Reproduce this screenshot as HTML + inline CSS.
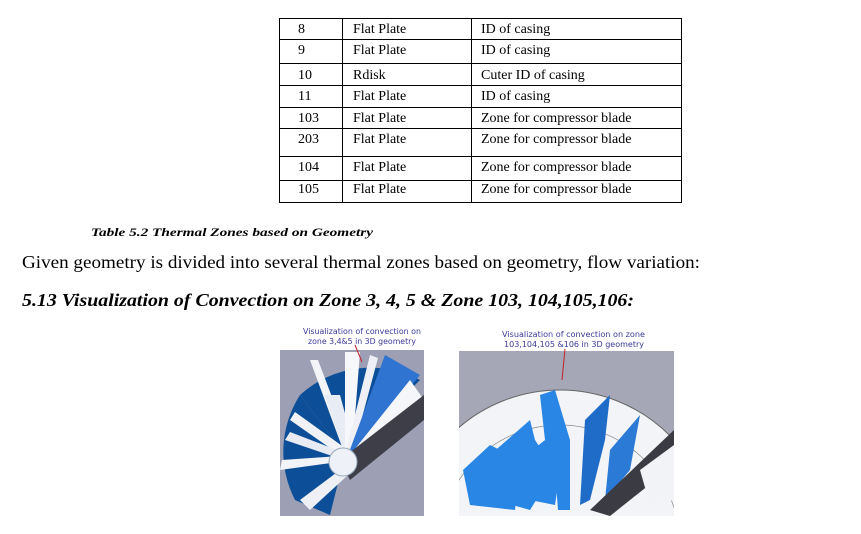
<!DOCTYPE html>
<html><head><style>
html,body{margin:0;padding:0;background:#fff;width:861px;height:534px;overflow:hidden;}
svg{display:block;}
</style></head><body>
<svg width="861" height="534" viewBox="0 0 861 534" xmlns="http://www.w3.org/2000/svg">
<rect width="861" height="534" fill="#fff"/>
<g font-family="Liberation Serif, serif" font-size="14" fill="#000">
<g stroke="#000" stroke-width="1" fill="none">
<rect x="279.5" y="18.5" width="402" height="184"/>
<line x1="342.5" y1="18" x2="342.5" y2="202"/>
<line x1="471.5" y1="18" x2="471.5" y2="202"/>
<line x1="279" y1="39.5" x2="681" y2="39.5"/>
<line x1="279" y1="63.5" x2="681" y2="63.5"/>
<line x1="279" y1="85.5" x2="681" y2="85.5"/>
<line x1="279" y1="107.5" x2="681" y2="107.5"/>
<line x1="279" y1="128.5" x2="681" y2="128.5"/>
<line x1="279" y1="156.5" x2="681" y2="156.5"/>
<line x1="279" y1="180.5" x2="681" y2="180.5"/>
</g>
<text x="298" y="33">8</text><text x="353" y="33">Flat Plate</text><text x="481" y="33">ID of casing</text>
<text x="298" y="54">9</text><text x="353" y="54">Flat Plate</text><text x="481" y="54">ID of casing</text>
<text x="298" y="79">10</text><text x="353" y="79">Rdisk</text><text x="481" y="79">Cuter ID of casing</text>
<text x="298" y="100">11</text><text x="353" y="100">Flat Plate</text><text x="481" y="100">ID of casing</text>
<text x="298" y="122">103</text><text x="353" y="122">Flat Plate</text><text x="481" y="122">Zone for compressor blade</text>
<text x="298" y="143">203</text><text x="353" y="143">Flat Plate</text><text x="481" y="143">Zone for compressor blade</text>
<text x="298" y="171">104</text><text x="353" y="171">Flat Plate</text><text x="481" y="171">Zone for compressor blade</text>
<text x="298" y="193">105</text><text x="353" y="193">Flat Plate</text><text x="481" y="193">Zone for compressor blade</text>
<text x="91" y="236" font-size="12" font-style="italic" font-weight="bold" textLength="282" lengthAdjust="spacingAndGlyphs">Table 5.2 Thermal Zones based on Geometry</text>
<text x="22" y="268" font-size="17.5" textLength="678" lengthAdjust="spacingAndGlyphs">Given geometry is divided into several thermal zones based on geometry, flow variation:</text>
<text x="22" y="306" font-size="17.5" font-style="italic" font-weight="bold" textLength="612" lengthAdjust="spacingAndGlyphs">5.13 Visualization of Convection on Zone 3, 4, 5 &amp; Zone 103, 104,105,106:</text>
</g>
<g font-family="DejaVu Sans, sans-serif" font-size="8" fill="#3a3a9a">
<text x="303" y="334" textLength="118" lengthAdjust="spacingAndGlyphs">Visualization of convection on</text>
<text x="308" y="344" textLength="108" lengthAdjust="spacingAndGlyphs">zone 3,4&amp;5 in 3D geometry</text>
<text x="502" y="337" textLength="143" lengthAdjust="spacingAndGlyphs">Visualization of convection on zone</text>
<text x="504" y="347" textLength="140" lengthAdjust="spacingAndGlyphs">103,104,105 &amp;106 in 3D geometry</text>
</g>
<clipPath id="c1"><rect x="280" y="350" width="144" height="166"/></clipPath>
<rect x="280" y="350" width="144" height="166" fill="#9da0b4"/>
<g clip-path="url(#c1)">
<path d="M345,455 L300,395 A105,105 0 0 1 420,380 Z" fill="#0c4f98"/>
<path d="M345,455 L300,395 A105,105 0 0 0 295,500 L330,515 Z" fill="#0c4f98"/>
<path d="M345,455 L310,360 L318,360 L352,450Z" fill="#f2f4f8"/>
<path d="M345,455 L325,395 L340,395 L355,450Z" fill="#e8ecf4"/>
<path d="M345,455 L345,352 L360,352 L352,455Z" fill="#f6f7fa"/>
<path d="M345,455 L370,355 L378,358 L352,455Z" fill="#eef0f6"/>
<path d="M348,455 L385,355 L420,375 L355,455Z" fill="#2f74d0"/>
<path d="M350,455 L410,380 L424,400 L356,458Z" fill="#f4f6fa"/>
<path d="M340,455 L290,420 L295,412 L345,448Z" fill="#f0f2f6"/>
<path d="M338,458 L285,440 L290,432 L342,452Z" fill="#e8ebf2"/>
<path d="M338,462 L280,470 L282,460 L340,456Z" fill="#f2f4f8"/>
<path d="M340,470 L300,500 L310,510 L348,475Z" fill="#eef0f5"/>
<path d="M340,460 L424,395 L424,420 L350,480 Z" fill="#3e3e48"/>
<circle cx="343" cy="462" r="14" fill="#eef2f8" stroke="#9ab" stroke-width="1"/>
</g>
<line x1="355" y1="345" x2="362" y2="362" stroke="#c0202a" stroke-width="1"/>
<clipPath id="c2"><rect x="459" y="351" width="215" height="165"/></clipPath>
<rect x="459" y="351" width="215" height="165" fill="#a5a7b7"/>
<g clip-path="url(#c2)">
<circle cx="560" cy="545" r="155" fill="#f3f4f7" stroke="#666" stroke-width="1"/>
<circle cx="560" cy="545" r="120" fill="none" stroke="#888" stroke-width="0.7"/>
<path d="M490,455 L530,420 L535,440 L555,470 L530,510 L495,500Z" fill="#2a86e4"/>
<path d="M463,470 L490,445 L520,460 L515,510 L470,505Z" fill="#2a86e4"/>
<path d="M520,460 L545,440 L560,470 L555,505 L530,500Z" fill="#2a86e4"/>
<path d="M540,395 L555,390 L570,440 L570,510 L558,510 L555,470 L545,440Z" fill="#2a86e4"/>
<path d="M585,420 L610,395 L605,440 L590,500 L580,505Z" fill="#1e6cc8"/>
<path d="M610,450 L640,415 L630,470 L605,500Z" fill="#2a7ad6"/>
<path d="M590,510 L674,430 L674,465 L610,516Z" fill="#3b3b44"/>
<path d="M640,470 L674,445 L674,500 L650,505Z" fill="#f2f3f6"/>
</g>
<line x1="565" y1="349" x2="562" y2="380" stroke="#c0202a" stroke-width="1"/>
</svg>
</body></html>
